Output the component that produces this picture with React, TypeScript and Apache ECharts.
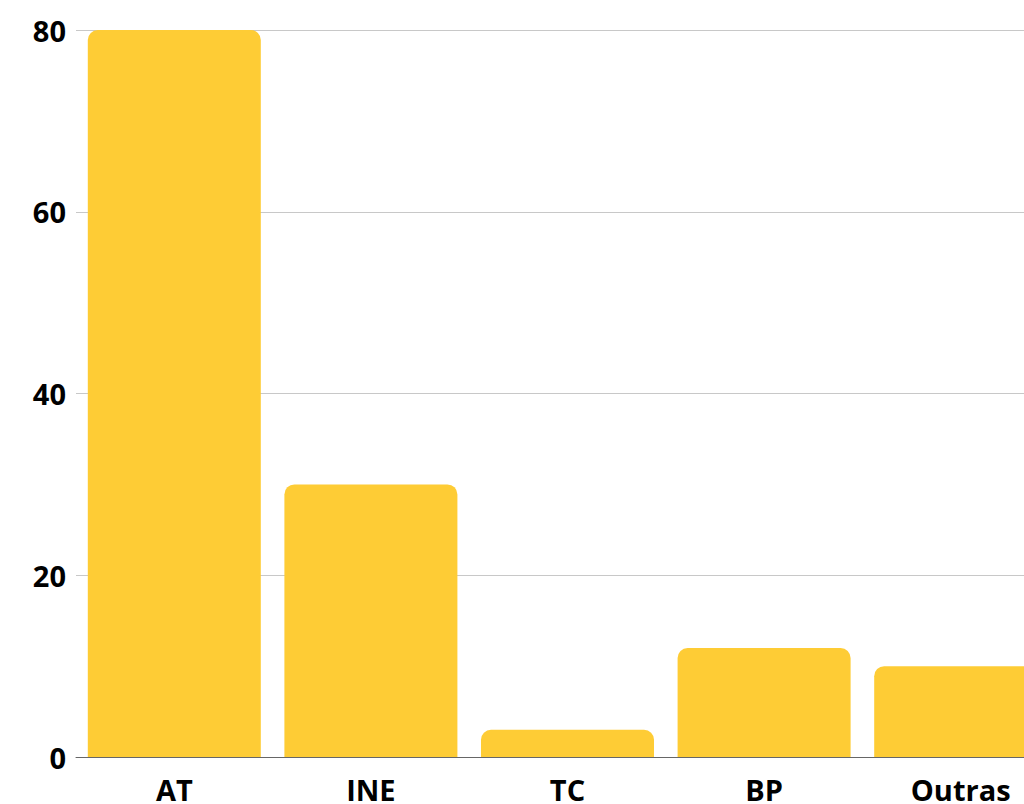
import React, { useEffect, useRef } from "react";
import * as echarts from "echarts";

const categories = ["AT", "INE", "TC", "BP", "Outras"];
const values = [80, 30, 3, 12, 10];
const yTicks = { min: 0, max: 80, interval: 20 };

export default function App() {
  const ref = useRef<HTMLDivElement>(null);
  useEffect(() => {
    if (!ref.current) return;
    const chart = echarts.init(ref.current, undefined, { renderer: "svg" });
    chart.setOption({
      animation: false,
      grid: { left: 76, right: 11, top: 30, bottom: 47 },
      xAxis: {
        type: "category",
        data: categories,
        axisTick: { show: false },
        axisLine: { lineStyle: { color: "#666666", width: 1 } },
        axisLabel: {
          color: "#000",
          fontFamily: "Open Sans",
          fontWeight: "bold",
          fontSize: 29,
          margin: 18,
        },
      },
      yAxis: {
        type: "value",
        min: yTicks.min,
        max: yTicks.max,
        interval: yTicks.interval,
        axisLine: { show: false },
        axisTick: { show: false },
        splitLine: { lineStyle: { color: "#c8c8c8", width: 1 } },
        axisLabel: {
          color: "#000",
          fontFamily: "Open Sans",
          fontWeight: "bold",
          fontSize: 29,
          margin: 10,
        },
      },
      series: [
        {
          type: "bar",
          data: values,
          barCategoryGap: "12%",
          itemStyle: { color: "#FECC35", borderRadius: [10, 10, 0, 0] },
        },
      ],
    });
    return () => chart.dispose();
  }, []);
  return (
    <div style={{ position: "fixed", left: 0, top: 0, width: 1024, height: 804, overflow: "hidden", background: "#fff" }}>
      <div ref={ref} style={{ width: 1070, height: 804 }} />
    </div>
  );
}
